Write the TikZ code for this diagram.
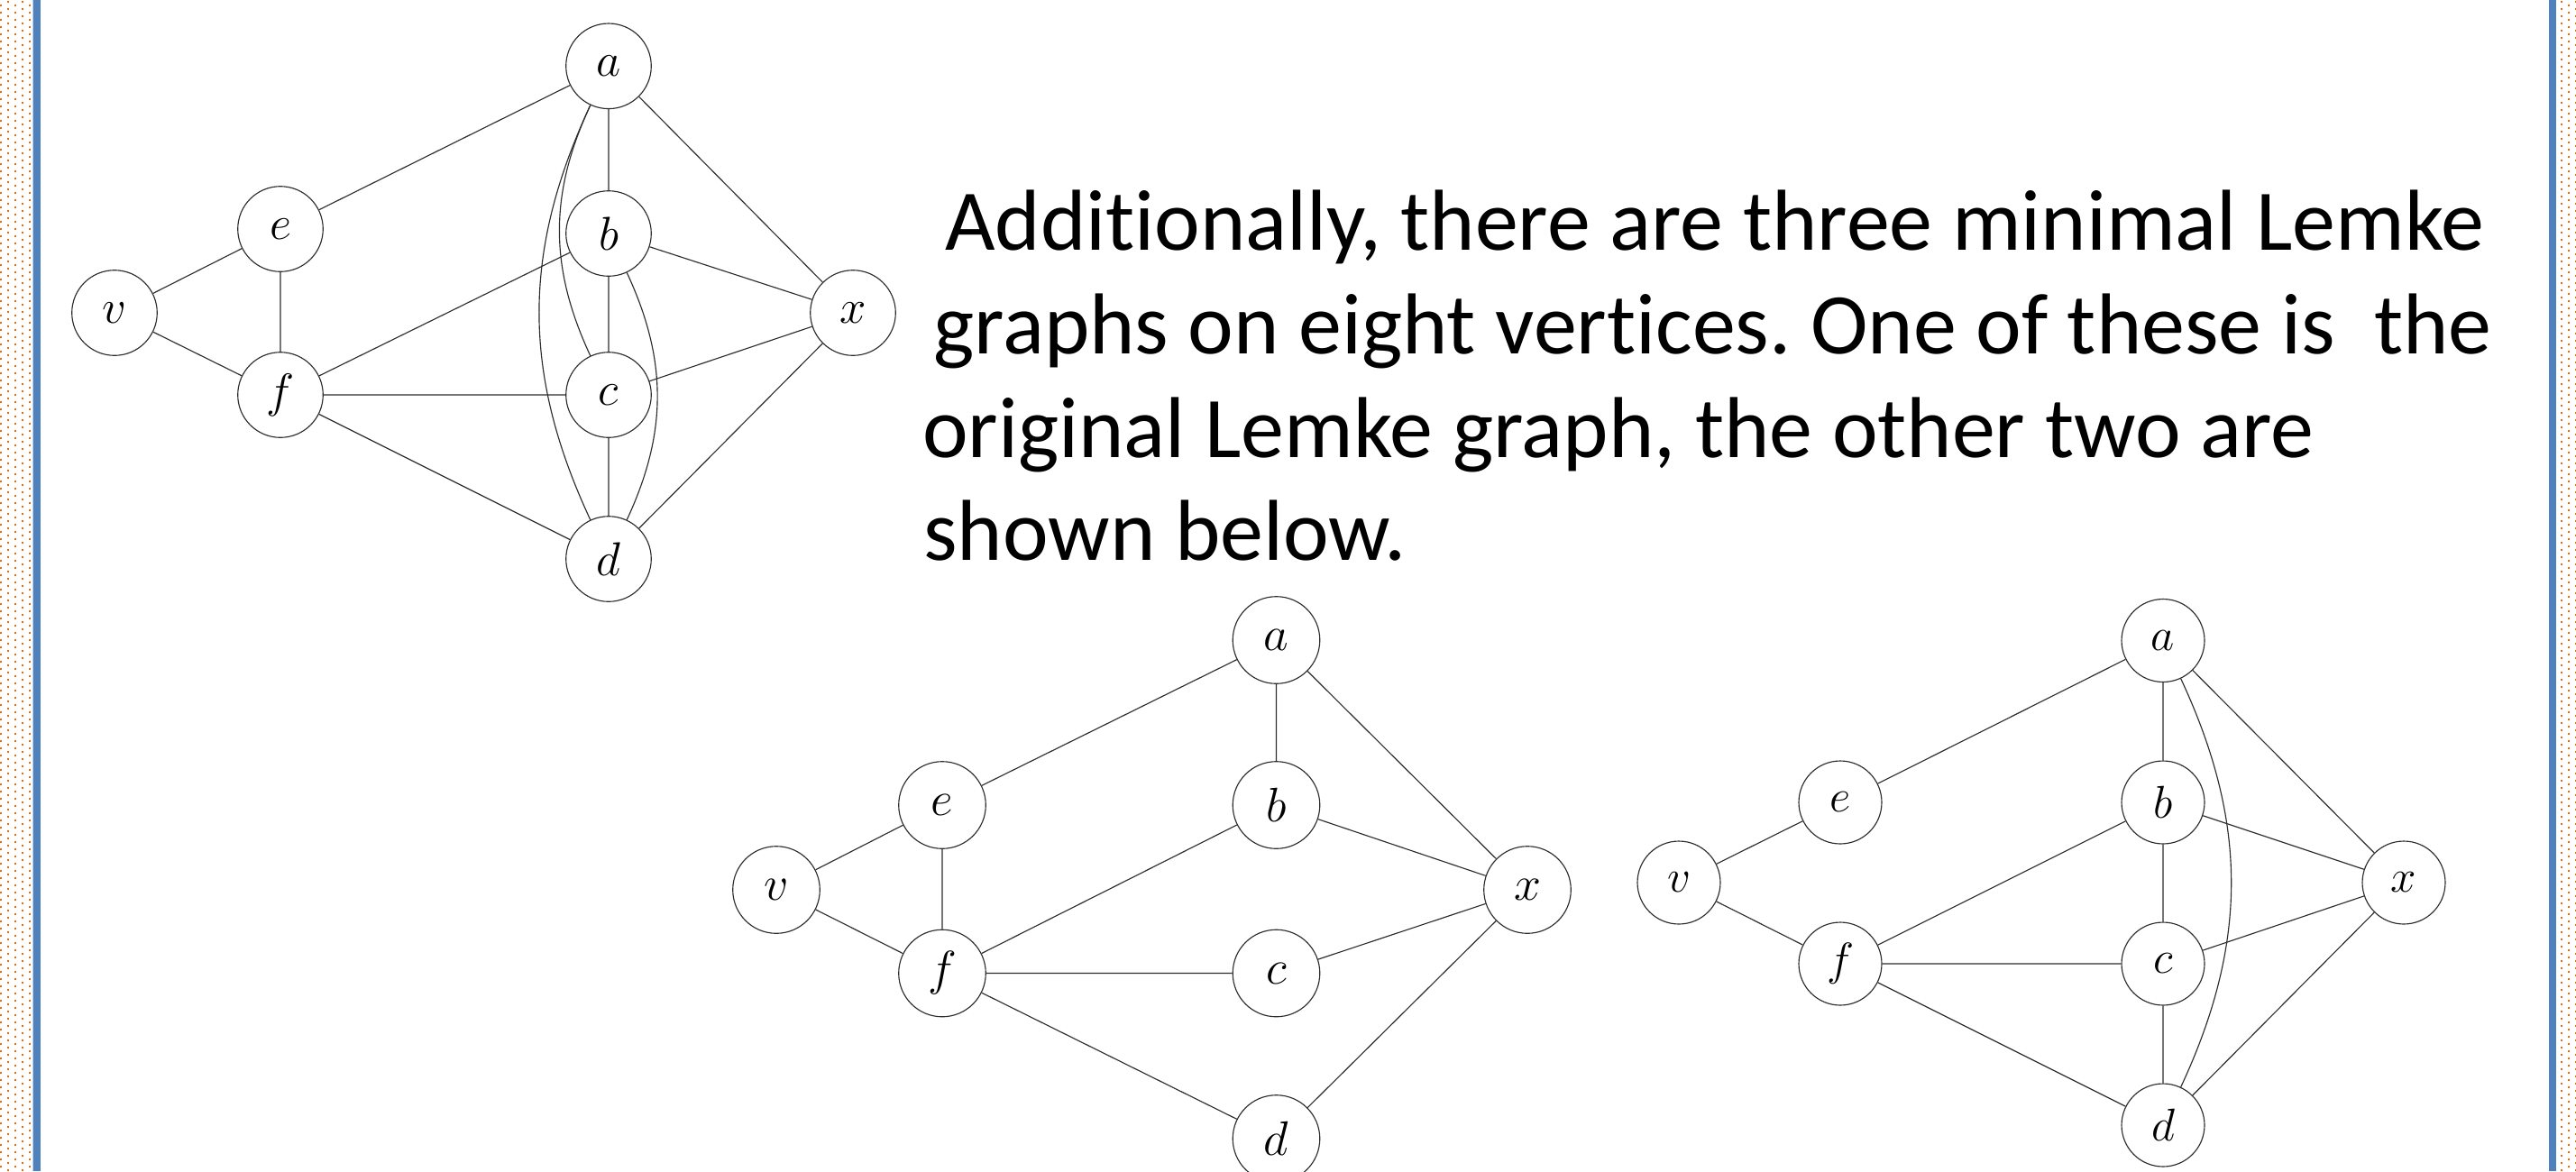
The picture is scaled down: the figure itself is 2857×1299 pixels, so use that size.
\documentclass[tikz,border=0pt]{standalone}
\usepackage{fontspec}
\newfontfamily\calib[Ligatures={NoCommon}]{Carlito}
\definecolor{dotor}{RGB}{228,108,10}
\definecolor{barblue}{RGB}{79,129,189}
\definecolor{barlight}{RGB}{190,208,230}
\definecolor{edgec}{RGB}{45,45,45}
\newcommand{\vlab}[2]{\scalebox{#1}{$#2$}}
\frenchspacing
\begin{document}
\begin{tikzpicture}[x=0.02cm,y=-0.02cm,
  vtx/.style={circle,draw=edgec,line width=0.65pt,inner sep=0pt,fill=white,font=\fontsize{24.88}{30}\selectfont},
  gA/.style={vtx,minimum size=1.892cm},
  gB/.style={vtx,minimum size=1.932cm},
  gC/.style={vtx,minimum size=1.84cm},
  lnk/.style={draw=edgec,line width=0.65pt},
  txt/.style={anchor=base west,inner sep=0pt,font=\calib\fontsize{54.6}{64}\selectfont}]
\useasboundingbox (0,0) rectangle (2857,1299);
\clip (0,0) rectangle (2857,1299);
\fill[white] (0,0) rectangle (2857,1299);
% side borders
\foreach \j in {-1,...,163}{
  \foreach \xx in {0,16,32,2848}{\fill[dotor] (\xx,\j*8+4.7) rectangle +(2,2);}
  \foreach \xx in {8,24,2840,2856}{\fill[dotor] (\xx,\j*8+0.7) rectangle +(2,2);}
}
\fill[barlight] (36,0) rectangle (37,1299);
\fill[barblue] (37,0) rectangle (44.5,1299);
\fill[barblue] (2827,0) rectangle (2835,1299);
% text
\node[txt] (t1) at (1048,277) {Additionally, there are three minimal Lemke};
\node[txt] (t2) at (1035,392) {graphs on eight vertices. One of these is~ the};
\node[txt] (t3) at (1023,507) {original Lemke graph, the other two are};
\node[txt] (t4) at (1024,621) {shown below.};
% graph 1
\node[gA] (a1) at (675,73.3) {\vlab{1.206}{a}};
\node[gA] (b1) at (675,259) {\vlab{1.206}{b}};
\node[gA] (c1) at (675,438) {\vlab{1.206}{c}};
\node[gA] (d1) at (675,620) {\vlab{1.206}{d}};
\node[gA] (e1) at (311,254) {\vlab{1.206}{e}};
\node[gA] (f1) at (311,438) {\vlab{1.206}{f}};
\node[gA] (v1) at (127,347) {\vlab{1.206}{v}};
\node[gA] (x1) at (946,347) {\vlab{1.206}{x}};
\draw[lnk] (v1)--(e1) (v1)--(f1) (e1)--(f1) (e1)--(a1) (a1)--(b1) (b1)--(c1) (c1)--(d1)
  (a1)--(x1) (b1)--(x1) (c1)--(x1) (d1)--(x1) (f1)--(b1) (f1)--(c1) (f1)--(d1);
\draw[lnk] (a1) to[bend right=25] (c1);
\draw[lnk] (a1) to[bend right=25] (d1);
\draw[lnk] (b1) to[bend left=25] (d1);
% graph 2
\node[gB] (a2) at (1415.5,710) {\vlab{1.23}{a}};
\node[gB] (b2) at (1415.5,893) {\vlab{1.23}{b}};
\node[gB] (c2) at (1415.5,1079.5) {\vlab{1.23}{c}};
\node[gB] (d2) at (1415.5,1263) {\vlab{1.23}{d}};
\node[gB] (e2) at (1045,893) {\vlab{1.23}{e}};
\node[gB] (f2) at (1045,1079.5) {\vlab{1.23}{f}};
\node[gB] (v2) at (861,987) {\vlab{1.23}{v}};
\node[gB] (x2) at (1694,987) {\vlab{1.23}{x}};
\draw[lnk] (v2)--(e2) (v2)--(f2) (e2)--(f2) (e2)--(a2) (a2)--(b2) (a2)--(x2) (b2)--(x2)
  (f2)--(b2) (f2)--(c2) (f2)--(d2) (c2)--(x2) (d2)--(x2);
% graph 3
\node[gC] (a3) at (2399,710.5) {\vlab{1.166}{a}};
\node[gC] (b3) at (2399,890) {\vlab{1.166}{b}};
\node[gC] (c3) at (2399,1069) {\vlab{1.166}{c}};
\node[gC] (d3) at (2399,1248) {\vlab{1.166}{d}};
\node[gC] (e3) at (2041,890) {\vlab{1.166}{e}};
\node[gC] (f3) at (2041,1069) {\vlab{1.166}{f}};
\node[gC] (v3) at (1862,979) {\vlab{1.166}{v}};
\node[gC] (x3) at (2666,979) {\vlab{1.166}{x}};
\draw[lnk] (v3)--(e3) (v3)--(f3) (e3)--(a3) (a3)--(b3) (b3)--(c3) (c3)--(d3)
  (a3)--(x3) (b3)--(x3) (c3)--(x3) (d3)--(x3) (f3)--(b3) (f3)--(c3) (f3)--(d3);
\draw[lnk] (a3) to[bend left=25] (d3);
\end{tikzpicture}
\end{document}
